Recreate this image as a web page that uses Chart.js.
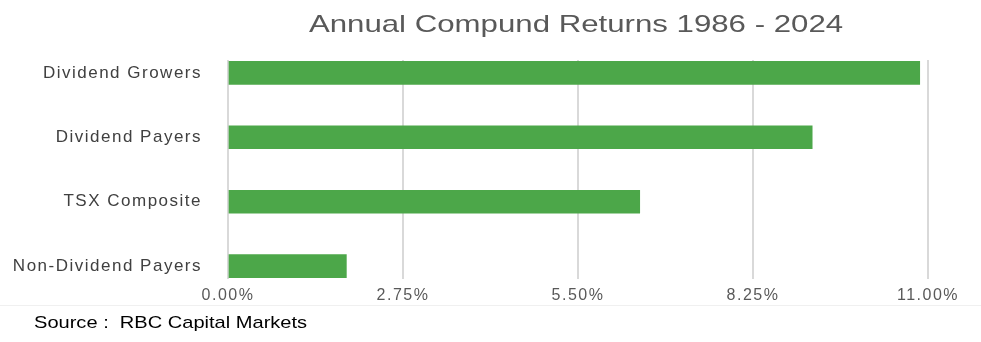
<!DOCTYPE html>
<html>
<head>
<meta charset="utf-8">
<script src="https://cdn.jsdelivr.net/npm/chart.js@4/dist/chart.umd.min.js"></script>
<style>
    html, body { margin: 0; padding: 0; background: #ffffff; }
    #wrap { position: relative; width: 981px; height: 342px; overflow: hidden; }
    #chart1 { position: absolute; left: 0; top: 0; }
    #title {
        position: absolute; left: 576px; top: 12px;
        font: 24px "Liberation Sans", Arial, sans-serif; line-height: 24px;
        color: #595959; white-space: nowrap;
        transform: translateX(-50%) scaleX(1.3);
    }
    #source {
        position: absolute; left: 34px; top: 314px;
        font: 17px "Liberation Sans", Arial, sans-serif; line-height: 17px;
        color: #000000; white-space: nowrap;
        transform-origin: left center; transform: scaleX(1.18);
    }
    #rule { position: absolute; left: 0; right: 0; top: 305px; border-top: 1px solid #f0f0f0; }
</style>
</head>
<body>
<div id="wrap">
    <canvas id="chart1" width="981" height="342"></canvas>
    <div id="title">Annual Compund Returns 1986 - 2024</div>
    <div id="rule"></div>
    <div id="source">Source :&nbsp; RBC Capital Markets</div>
</div>
<script>
// chart data
const categories = ["Dividend Growers", "Dividend Payers", "TSX Composite", "Non-Dividend Payers"];
const annualReturns = [10.87, 9.18, 6.47, 1.86]; // percent
const xMin = 0;
const xMax = 11;
const xStep = 2.75;

const barGreen = "rgb(76, 167, 73)";

// the labels in the picture are wider than plain Arial, so space the letters out a bit
// (canvas resets this whenever it is resized, so set it again before layout and draw)
const letterSpacer = {
    id: "letterSpacer",
    beforeLayout(chart) { chart.ctx.letterSpacing = "1.5px"; },
    beforeDraw(chart) { chart.ctx.letterSpacing = "1.5px"; }
};

let chartData = {
    datasets: [{
        label: "Annual compound return",
        data: annualReturns.map((v, i) => ({ x: v, y: i })),
        backgroundColor: barGreen,
        borderWidth: 0,
        barThickness: 23,
    }]
};

let config = {
    type: "bar",
    data: chartData,
    plugins: [letterSpacer],
    options: {
        indexAxis: "y",
        responsive: false,
        animation: false,
        layout: {
            padding: { left: 12, right: 53, top: 60, bottom: 37 }
        },
        plugins: {
            legend: { display: false },
            title: { display: false },
            tooltip: { enabled: false },
        },
        scales: {
            x: {
                min: xMin,
                max: xMax,
                border: { display: false },
                grid: {
                    color: "#d9d9d9",
                    lineWidth: 2,
                    drawTicks: false,
                },
                ticks: {
                    stepSize: xStep,
                    padding: 7,
                    color: "#595959",
                    font: { family: "'Liberation Sans', Arial, sans-serif", size: 16 },
                    callback: function(value) {
                        return value.toFixed(2) + "%";
                    }
                },
                // chart.js counts the tick padding twice, keep the axis tight
                afterFit: function(scale) { scale.height = 26; }
            },
            y: {
                // linear index axis so the bars can sit close to the plot edges
                type: "linear",
                offset: false,
                reverse: true,
                min: -0.2,
                max: 3.2,
                afterBuildTicks: function(scale) {
                    scale.ticks = categories.map((c, i) => ({ value: i }));
                },
                afterFit: function(scale) { scale.width = 216; },
                border: { display: false },
                grid: { display: false, drawTicks: false },
                ticks: {
                    padding: 26,
                    color: "#404040",
                    font: { family: "'Liberation Sans', Arial, sans-serif", size: 17 },
                    callback: function(value) {
                        return categories[value];
                    }
                }
            }
        }
    }
};

const chart1 = new Chart(document.getElementById("chart1"), config);
</script>
</body>
</html>
